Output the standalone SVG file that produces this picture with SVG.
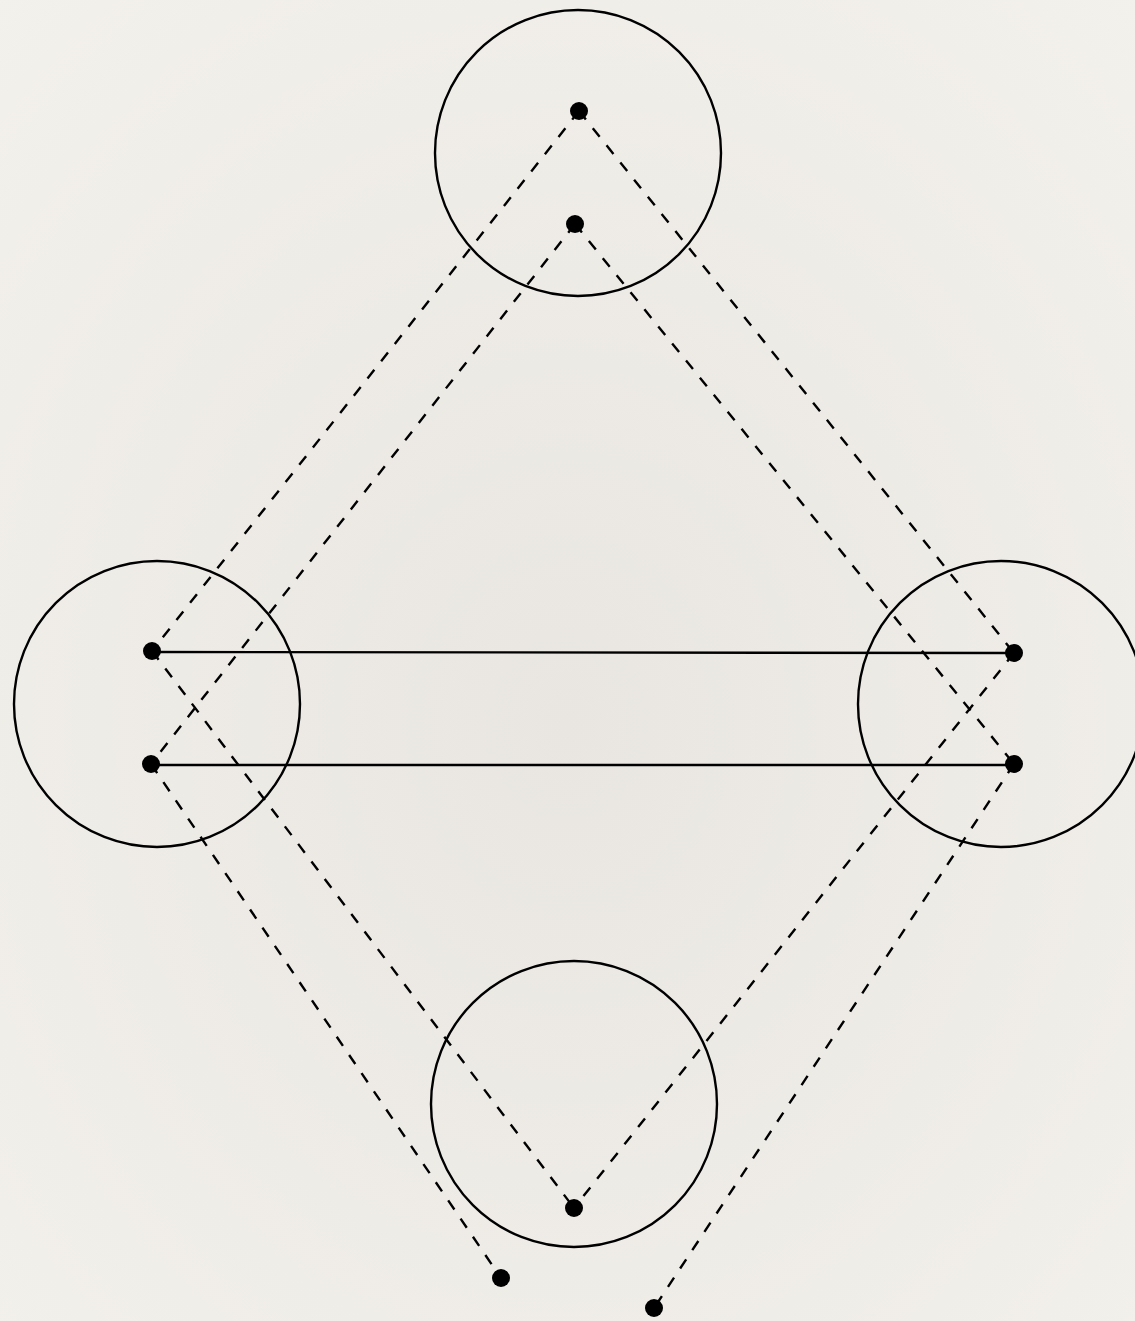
<svg xmlns="http://www.w3.org/2000/svg" width="1135" height="1321" viewBox="0 0 1135 1321">
<defs>
<radialGradient id="bg" cx="0.5" cy="0.55" r="0.75">
<stop offset="0" stop-color="#e9e6e1"/>
<stop offset="1" stop-color="#f3f1ec"/>
</radialGradient>
<style>
.ring{fill:none;stroke:#000;stroke-width:2.4}
.dot{fill:#000}
.dash{stroke:#000;stroke-width:2.4;fill:none;stroke-dasharray:11 11}
.solid{stroke:#000;stroke-width:2.4;fill:none}
</style>
</defs>
<rect width="1135" height="1321" fill="url(#bg)"/>
<g id="connectors">
<line class="dash" x1="579" y1="111" x2="152" y2="651"/>
<line class="dash" x1="579" y1="111" x2="1014" y2="653"/>
<line class="dash" x1="575" y1="224" x2="151" y2="764"/>
<line class="dash" x1="575" y1="224" x2="1014" y2="764"/>
<line class="dash" x1="152" y1="651" x2="574" y2="1208"/>
<line class="dash" x1="1014" y1="653" x2="574" y2="1208"/>
<line class="dash" x1="151" y1="764" x2="501" y2="1278"/>
<line class="dash" x1="1014" y1="764" x2="654" y2="1308"/>
<line class="solid" x1="152" y1="652" x2="1014" y2="653"/>
<line class="solid" x1="151" y1="765" x2="1014" y2="765"/>
</g>
<g id="circle-top"><circle class="ring" cx="578" cy="153" r="143"/></g>
<g id="circle-left"><circle class="ring" cx="157" cy="704" r="143"/></g>
<g id="circle-right"><circle class="ring" cx="1001" cy="704" r="143"/></g>
<g id="circle-bottom"><circle class="ring" cx="574" cy="1104" r="143"/></g>
<g id="dot-top1"><circle class="dot" cx="579" cy="111" r="9"/></g>
<g id="dot-top2"><circle class="dot" cx="575" cy="224" r="9"/></g>
<g id="dot-left1"><circle class="dot" cx="152" cy="651" r="9"/></g>
<g id="dot-left2"><circle class="dot" cx="151" cy="764" r="9"/></g>
<g id="dot-right1"><circle class="dot" cx="1014" cy="653" r="9"/></g>
<g id="dot-right2"><circle class="dot" cx="1014" cy="764" r="9"/></g>
<g id="dot-bottom"><circle class="dot" cx="574" cy="1208" r="9"/></g>
<g id="dot-bottom-left"><circle class="dot" cx="501" cy="1278" r="9"/></g>
<g id="dot-bottom-right"><circle class="dot" cx="654" cy="1308" r="9"/></g>
</svg>
